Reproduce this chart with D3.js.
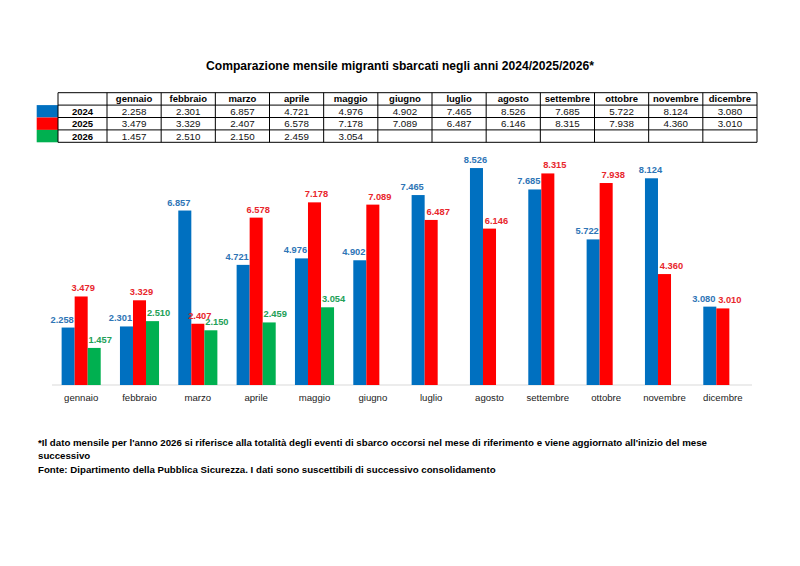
<!DOCTYPE html>
<html>
<head>
<meta charset="utf-8">
<script src="https://cdn.jsdelivr.net/npm/d3@7"></script>
<style>
  body { margin: 0; background: #fff; }
  svg { font-family: Arial, "Liberation Sans", sans-serif; }
</style>
</head>
<body>
<svg id="chart" width="800" height="566"></svg>
<script>
// chart data
const months = ["gennaio", "febbraio", "marzo", "aprile", "maggio", "giugno", "luglio", "agosto", "settembre", "ottobre", "novembre", "dicembre"];
const years = ["2024", "2025", "2026"];
const values2024 = [2258, 2301, 6857, 4721, 4976, 4902, 7465, 8526, 7685, 5722, 8124, 3080];
const values2025 = [3479, 3329, 2407, 6578, 7178, 7089, 6487, 6146, 8315, 7938, 4360, 3010];
const values2026 = [1457, 2510, 2150, 2459, 3054];
const barColors = ["#0070C0", "#FF0000", "#00B050"];
const labelColors = ["#2E75B6", "#E8262C", "#22A057"];

const titleText = "Comparazione mensile migranti sbarcati negli anni 2024/2025/2026*";
const noteLines = [
    "*Il dato mensile per l'anno 2026 si riferisce alla totalità degli eventi di sbarco occorsi nel mese di riferimento e viene aggiornato all'inizio del mese",
    "successivo",
    "Fonte: Dipartimento della Pubblica Sicurezza. I dati sono suscettibili di successivo consolidamento"
];

const series = [values2024, values2025, values2026];

// italian number format, dot as thousand separator
const itFormat = d3.formatLocale({decimal: ",", thousands: ".", grouping: [3], currency: ["€", ""]}).format(",d");

const svg = d3.select("#chart");

// title
svg.append("text")
    .attr("x", 400)
    .attr("y", 69.5)
    .attr("text-anchor", "middle")
    .attr("font-size", "12.1px")
    .attr("font-weight", "bold")
    .attr("fill", "#000")
    .text(titleText);

// ---------- table ----------
const tableLeft = 58, firstColRight = 107, tableRight = 757;
const tableTop = 92.7, rowH = 12.4;

const colX = d3.scaleBand().domain(months).range([firstColRight, tableRight]);
const rowY = d3.scaleBand().domain(["header"].concat(years)).range([tableTop, tableTop + rowH * 4]);

const table = svg.append("g");

// colour swatches next to the year rows
table.selectAll("rect.swatch")
    .data(years)
    .enter()
    .append("rect")
    .attr("class", "swatch")
    .attr("x", 36.7)
    .attr("y", d => rowY(d))
    .attr("width", tableLeft - 36.7)
    .attr("height", rowY.bandwidth())
    .attr("fill", (d, i) => barColors[i]);

// grid lines
const hLines = rowY.domain().map(d => rowY(d)).concat([tableTop + rowH * 4]);
table.selectAll("line.h")
    .data(hLines)
    .enter()
    .append("line")
    .attr("x1", tableLeft)
    .attr("x2", tableRight)
    .attr("y1", d => d)
    .attr("y2", d => d)
    .attr("stroke", "#000")
    .attr("stroke-width", 1);

const vLines = [tableLeft].concat(months.map(m => colX(m))).concat([tableRight]);
table.selectAll("line.v")
    .data(vLines)
    .enter()
    .append("line")
    .attr("x1", d => d)
    .attr("x2", d => d)
    .attr("y1", tableTop)
    .attr("y2", tableTop + rowH * 4)
    .attr("stroke", "#000")
    .attr("stroke-width", 1);

// header row
table.selectAll("text.head")
    .data(months)
    .enter()
    .append("text")
    .attr("x", d => colX(d) + colX.bandwidth() / 2)
    .attr("y", rowY("header") + rowH / 2)
    .attr("dy", "0.36em")
    .attr("text-anchor", "middle")
    .attr("font-size", "9.5px")
    .attr("font-weight", "bold")
    .text(d => d);

// year column
table.selectAll("text.year")
    .data(years)
    .enter()
    .append("text")
    .attr("x", (tableLeft + firstColRight) / 2)
    .attr("y", d => rowY(d) + rowH / 2)
    .attr("dy", "0.36em")
    .attr("text-anchor", "middle")
    .attr("font-size", "9.5px")
    .attr("font-weight", "bold")
    .text(d => d);

// values
years.forEach((yr, i) => {
    table.selectAll("text.v" + yr)
        .data(series[i])
        .enter()
        .append("text")
        .attr("x", (d, j) => colX(months[j]) + colX.bandwidth() / 2)
        .attr("y", rowY(yr) + rowH / 2)
        .attr("dy", "0.36em")
        .attr("text-anchor", "middle")
        .attr("font-size", "9.8px")
        .attr("fill", "#111")
        .text(d => itFormat(d));
});

// ---------- bar chart ----------
const baseY = 385;
const x0 = d3.scaleBand().domain(months).range([52, 752]).paddingInner(0.33).paddingOuter(0.165);
const x1 = d3.scaleBand().domain(years).range([0, x0.bandwidth()]);
const y = d3.scaleLinear().domain([0, 9000]).range([baseY, baseY - 229]);

const chart = svg.append("g");

// baseline
chart.append("line")
    .attr("x1", 52)
    .attr("x2", 752)
    .attr("y1", baseY)
    .attr("y2", baseY)
    .attr("stroke", "#D9D9D9")
    .attr("stroke-width", 1);

// label offsets so neighbouring labels do not overlap
function labelShift(i, j) {
    const twoBars = series[2][j] === undefined;
    if (i === 0) {
        if (twoBars && series[0][j] - series[1][j] > 2000) return -1;
        return -6;
    }
    if (i === 1) return twoBars ? 7 : 2;
    return 6;
}

years.forEach((yr, i) => {
    const g = chart.append("g");
    g.selectAll("rect")
        .data(series[i])
        .enter()
        .append("rect")
        .attr("x", (d, j) => x0(months[j]) + x1(yr))
        .attr("y", d => y(d))
        .attr("width", x1.bandwidth())
        .attr("height", d => baseY - y(d))
        .attr("fill", barColors[i]);

    g.selectAll("text")
        .data(series[i])
        .enter()
        .append("text")
        .attr("x", (d, j) => x0(months[j]) + x1(yr) + x1.bandwidth() / 2 + labelShift(i, j))
        .attr("y", d => y(d) - 5)
        .attr("text-anchor", "middle")
        .attr("font-size", "9.3px")
        .attr("font-weight", "bold")
        .attr("fill", labelColors[i])
        .text(d => itFormat(d));
});

// month labels under the bars
chart.selectAll("text.month")
    .data(months)
    .enter()
    .append("text")
    .attr("x", d => x0(d) + x0.bandwidth() / 2)
    .attr("y", 401)
    .attr("text-anchor", "middle")
    .attr("font-size", "9.6px")
    .attr("fill", "#222")
    .text(d => d);

// ---------- notes ----------
svg.selectAll("text.note")
    .data(noteLines)
    .enter()
    .append("text")
    .attr("x", 38)
    .attr("y", (d, i) => 446 + i * 13.3)
    .attr("font-size", "9.7px")
    .attr("font-weight", "bold")
    .attr("fill", "#000")
    .text(d => d);
</script>
</body>
</html>
